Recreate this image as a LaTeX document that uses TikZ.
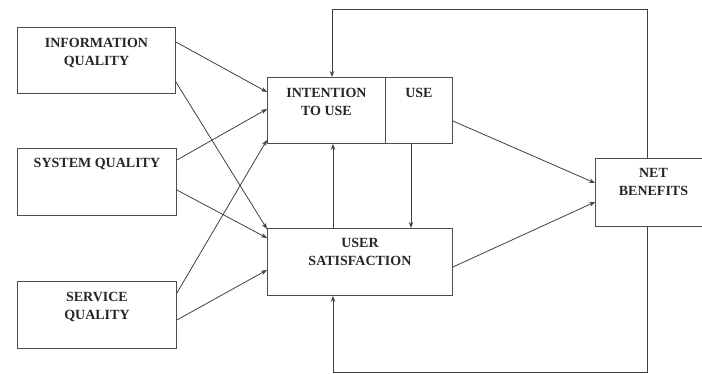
\documentclass[tikz,border=0pt]{standalone}
\usepackage{fontspec}
\setmainfont{Liberation Serif}
\usetikzlibrary{arrows.meta,positioning}

\tikzset{
  box/.style={draw=black!70, line width=0.9pt, anchor=north west, inner sep=0pt},
  lbl/.style={font=\bfseries\fontsize{14}{18}\selectfont, align=center, inner sep=0pt, text=black!85},
  link/.style={draw=black!75, line width=0.8pt, -{Stealth[length=6pt,width=4.5pt]}},
}

\begin{document}
\begin{tikzpicture}[x=1pt,y=-1pt]
  \useasboundingbox (0,0) rectangle (702,374);
  \clip (0,0) rectangle (702,374);
  % boxes
  \node[box, minimum width=158pt, minimum height=66pt] (iq) at (17,27) {};
  \node[box, minimum width=159pt, minimum height=67pt] (sq) at (17,148) {};
  \node[box, minimum width=159pt, minimum height=67pt] (svq) at (17,281) {};
  \node[box, minimum width=118pt, minimum height=66pt] (intent) at (267,77) {};
  \node[box, minimum width=67pt, minimum height=66pt] (use) at (385,77) {};
  \node[box, minimum width=185pt, minimum height=67pt] (us) at (267,228) {};
  \node[box, minimum width=116pt, minimum height=68pt] (nb) at (595,158) {};
  % labels
  \node[lbl, below=11pt of iq.north] (iqtext) {INFORMATION\\QUALITY};
  \node[lbl, below=10pt of sq.north] (sqtext) {SYSTEM QUALITY};
  \node[lbl, below=11pt of svq.north] (svqtext) {SERVICE\\QUALITY};
  \node[lbl, below=11pt of intent.north] (intenttext) {INTENTION\\TO USE};
  \node[lbl, below=11pt of use.north] (usetext) {USE};
  \node[lbl, below=10pt of us.north] (ustext) {USER\\SATISFACTION};
  \node[lbl, below=10pt of nb.north] (nbtext) {NET\\BENEFITS};
  % quality links
  \draw[link] ([yshift=-15pt]iq.north east) -- ([yshift=-15pt]intent.north west);
  \draw[link] ([yshift=-55pt]iq.north east) -- ([yshift=-1pt]us.north west);
  \draw[link] ([yshift=-12pt]sq.north east) -- ([yshift=-32pt]intent.north west);
  \draw[link] ([yshift=-42pt]sq.north east) -- ([yshift=-10pt]us.north west);
  \draw[link] ([yshift=-12pt]svq.north east) -- ([yshift=4pt]intent.south west);
  \draw[link] ([yshift=-39pt]svq.north east) -- ([yshift=-42pt]us.north west);
  % use and satisfaction
  \draw[link] ([xshift=66pt]us.north west) -- ([xshift=66pt]intent.south west);
  \draw[link] ([xshift=26pt]use.south west) -- ([xshift=144pt]us.north west);
  \draw[link] ([yshift=-44pt]use.north east) -- ([yshift=-25pt]nb.north west);
  \draw[link] ([yshift=-39pt]us.north east) -- ([yshift=-44pt]nb.north west);
  % feedback loops
  \draw[link] ([xshift=52pt]nb.north west) -- ++(0,-149) -| ([xshift=65pt]intent.north west);
  \draw[link] ([xshift=52pt]nb.south west) -- ++(0,145) -| ([xshift=66pt]us.south west);
\end{tikzpicture}
\end{document}
